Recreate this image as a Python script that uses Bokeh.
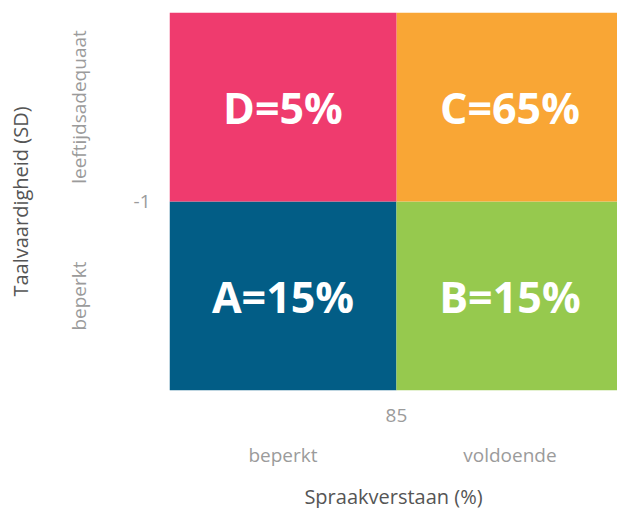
import math
from bokeh.plotting import figure
from bokeh.models import (ColumnDataSource, Range1d, FixedTicker, LinearAxis)
from bokeh.core.properties import value
from bokeh.embed import file_html
from bokeh.resources import INLINE

# ---- data ----
x_categories = ["beperkt", "voldoende"]
y_categories = ["beperkt", "leeftijdsadequaat"]
x_threshold_label = "85"
y_threshold_label = "-1"
quad_letters = ["A", "B", "C", "D"]
quad_percent = [15, 15, 65, 5]
quad_x_index = [0, 1, 1, 0]
quad_y_index = [0, 0, 1, 1]
quad_colors = ["#025D86", "#96C94E", "#F9A635", "#EF3B6E"]

FONT = "Open Sans"
GRAY = "#9b9b9b"
DARK = "#555555"

src = ColumnDataSource(dict(
    left=[i for i in quad_x_index],
    right=[i + 1 for i in quad_x_index],
    bottom=[j for j in quad_y_index],
    top=[j + 1 for j in quad_y_index],
    cx=[i + 0.5 for i in quad_x_index],
    cy=[j + 0.5 for j in quad_y_index],
    color=quad_colors,
    label=[f"{l}={v}%" for l, v in zip(quad_letters, quad_percent)],
))

# the right-hand column is partly cut off by the edge of the view
p = figure(frame_width=448, frame_height=378, output_backend="svg",
           toolbar_location=None, x_range=Range1d(0, 1.974), y_range=Range1d(0, 2),
           min_border_top=12, min_border_right=0, min_border_left=169,
           min_border_bottom=0, outline_line_color=None)
p.grid.visible = False

p.quad(left="left", right="right", bottom="bottom", top="top",
       fill_color="color", line_color=None, source=src)
p.text(x="cx", y="cy", text="label", source=src, text_color="white",
       text_font=value(FONT), text_font_style="bold", text_font_size="43px",
       text_align="center", text_baseline="middle")

def style_axis(ax, standoff):
    ax.axis_line_color = None
    ax.major_tick_line_color = None
    ax.minor_tick_line_color = None
    ax.major_tick_out = 0
    ax.major_tick_in = 0
    ax.minor_tick_out = 0
    ax.minor_tick_in = 0
    ax.major_label_text_font = FONT
    ax.major_label_text_font_size = "19px"
    ax.major_label_text_color = GRAY
    ax.major_label_standoff = standoff
    ax.axis_label_text_font = FONT
    ax.axis_label_text_font_size = "20px"
    ax.axis_label_text_font_style = "normal"
    ax.axis_label_text_color = DARK

# x threshold axis
xa = p.xaxis[0]
xa.ticker = FixedTicker(ticks=[1])
xa.major_label_overrides = {1: x_threshold_label}
style_axis(xa, 18)

# x category axis
xc = LinearAxis(ticker=FixedTicker(ticks=[0.5, 1.5]),
                major_label_overrides={0.5: x_categories[0], 1.5: x_categories[1]},
                axis_label="Spraakverstaan (%)")
style_axis(xc, 17)
xc.axis_label_standoff = 12
p.add_layout(xc, "below")

# y threshold axis
ya = p.yaxis[0]
ya.ticker = FixedTicker(ticks=[1])
ya.major_label_overrides = {1: y_threshold_label}
style_axis(ya, 19)

# y category axis
yc = LinearAxis(ticker=FixedTicker(ticks=[0.5, 1.5]),
                major_label_overrides={0.5: y_categories[0], 1.5: y_categories[1]},
                axis_label="Taalvaardigheid (SD)")
style_axis(yc, 39)
yc.major_label_orientation = "vertical"
yc.axis_label_standoff = 29
p.add_layout(yc, "left")

open("out.html", "w").write(file_html(p, INLINE))
